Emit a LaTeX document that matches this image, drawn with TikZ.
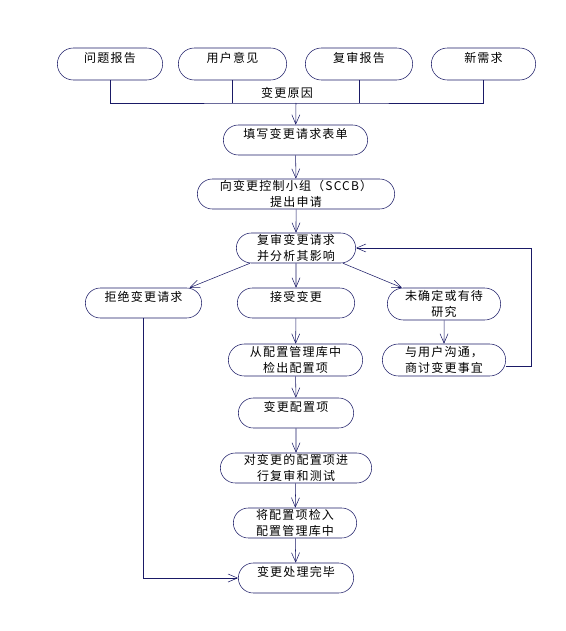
\documentclass[tikz,border=0pt]{standalone}
\usepackage{fontspec}
\setmainfont{Noto Sans CJK SC}[LetterSpace=10]
\usepackage{tikz}
\usetikzlibrary{positioning, arrows.meta, shapes.misc, calc}
\definecolor{navy}{HTML}{1A1A66}

\begin{document}
\begin{tikzpicture}[
  x=0.75pt, y=-0.75pt,
  stage/.style={
    rounded rectangle, draw=navy, fill=white, thin,
    minimum height=#1*0.75pt, inner sep=1pt,
    font=\fontsize{9pt}{11.5pt}\selectfont, align=center
  },
  stage/.default=30,
  upper/.style={text depth=10pt},
  arr/.style={-{Straight Barb[length=7pt, width=6pt]}, draw=navy, thin},
  link/.style={draw=navy, thin},
]
\useasboundingbox (0,0) rectangle (566,631);

% Sources
\node[stage=32, upper, minimum width=108*0.75pt] (prob) at (110,64) {问题报告};
\node[stage=32, upper, minimum width=111*0.75pt] (user) at (232.5,64) {用户意见};
\node[stage=32, upper, minimum width=110*0.75pt] (revw) at (359,64) {复审报告};
\node[stage=32, upper, minimum width=107*0.75pt] (need) at (483.5,64) {新需求};

\coordinate (bar) at (296,103);
\draw[link] (prob.south) |- (bar) -| (need.south);
\draw[link] (user.south) -- (user.south |- bar);
\draw[link] (revw.south) -- (revw.south |- bar);
\node[font=\fontsize{9pt}{11pt}\selectfont] (why) at (287,93) {变更原因};

% Request
\node[stage, upper, minimum width=147*0.75pt] (form) at (295.5,140) {填写变更请求表单};
\node[stage, minimum width=200*0.75pt] (sccb) at (296,194) {向变更控制小组（SCCB）\\提出申请};
\node[stage, minimum width=122*0.75pt] (anal) at (296,248) {复审变更请求\\并分析其影响};

% Decisions
\node[stage, upper, minimum width=119*0.75pt] (rej) at (143.5,303) {拒绝变更请求};
\node[stage, upper, minimum width=120*0.75pt] (acc) at (296,303) {接受变更};
\node[stage=32, minimum width=116*0.75pt] (open) at (444,304) {未确定或有待\\研究};

% Accepted path
\node[stage=32, minimum width=137*0.75pt] (out) at (295.5,360) {从配置管理库中\\检出配置项};
\node[stage=32, minimum width=126*0.75pt] (talk) at (444,360) {与用户沟通，\\商讨变更事宜};
\node[stage, upper, minimum width=118*0.75pt] (mod) at (296,413) {变更配置项};
\node[stage, minimum width=154*0.75pt] (test) at (296,468) {对变更的配置项进\\行复审和测试};
\node[stage, minimum width=126*0.75pt] (in) at (295,523) {将配置项检入\\配置管理库中};
\node[stage, upper, minimum width=118*0.75pt] (done) at (296,578) {变更处理完毕};

% Arrows
\draw[arr] (bar) -- (form);
\draw[arr] (form) -- (sccb);
\draw[arr] (sccb) -- (anal);
\draw[arr] ($(anal.south)+(-46,0)$) -- ($(rej.north)+(46,0)$);
\draw[arr] (anal) -- (acc);
\draw[arr] ($(anal.south)+(47,0)$) -- ($(open.north)+(-42,0)$);
\draw[arr] (acc) -- (out);
\draw[arr] (open) -- (talk);
\draw[arr] (out) -- (mod);
\draw[arr] (mod) -- (test);
\draw[arr] (test) -- (in);
\draw[arr] (in) -- (done);

% Loops back
\coordinate (back) at (531,366);
\draw[arr] ($(talk.east)+(0,6)$) -- (back) |- (anal.east);
\draw[arr] (rej.south) |- (done.west);

\end{tikzpicture}
\end{document}
